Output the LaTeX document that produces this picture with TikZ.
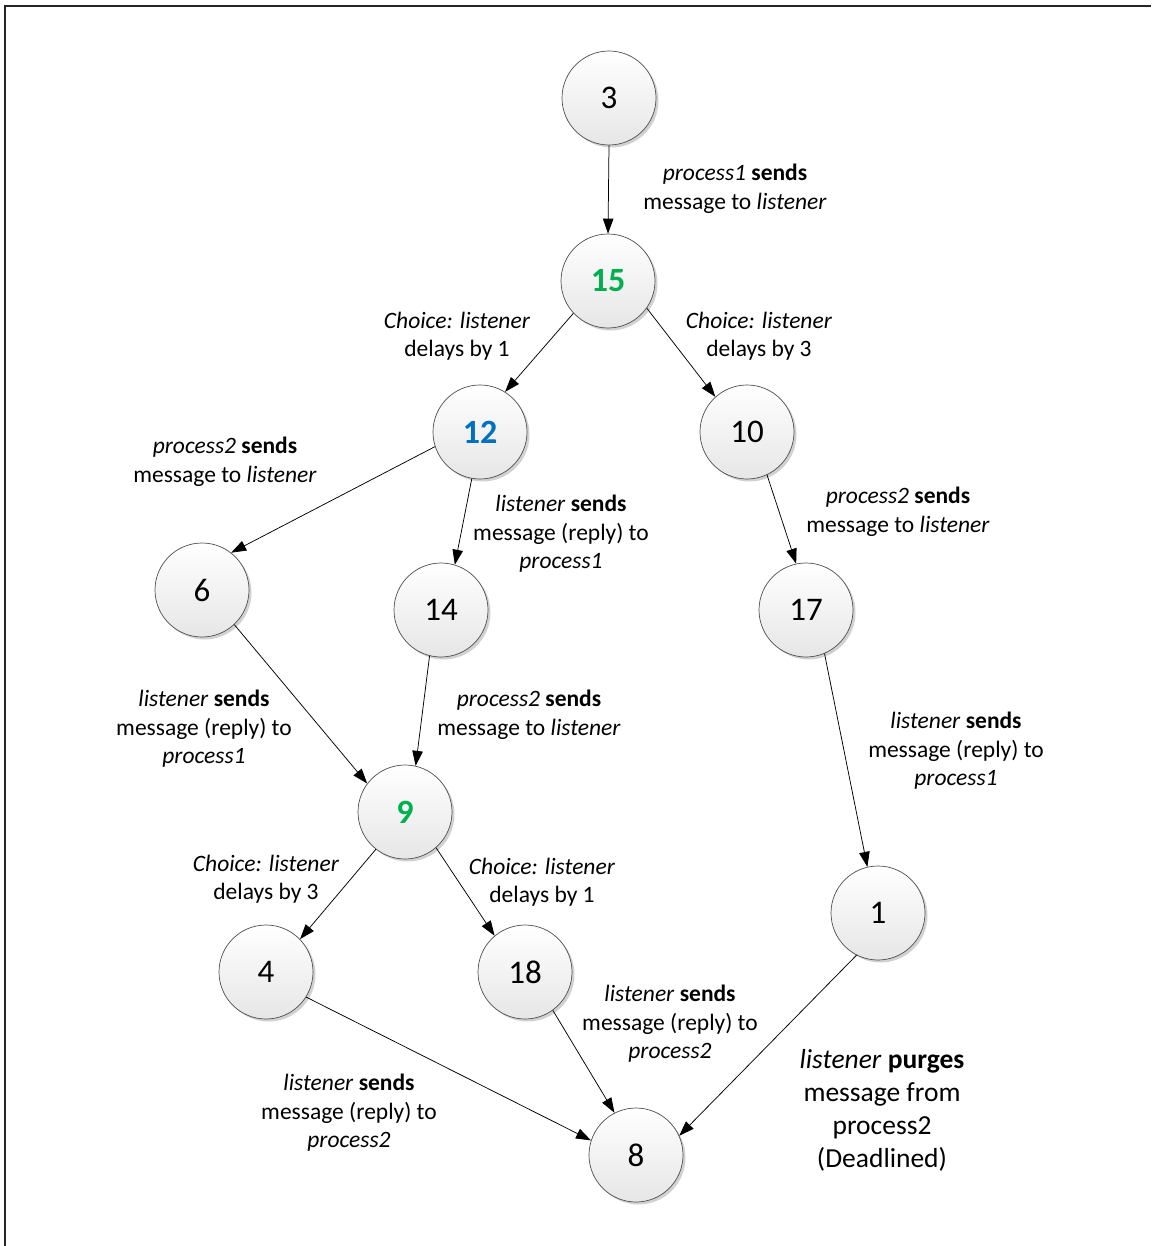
\documentclass[tikz,border=0pt]{standalone}
\usepackage{fontspec}
\setmainfont{Carlito}
\usetikzlibrary{arrows.meta,shadows}
\definecolor{stategreen}{RGB}{0,176,80}
\definecolor{stateblue}{RGB}{0,112,192}
\definecolor{ringgray}{RGB}{80,80,80}
\definecolor{fillgray}{RGB}{230,230,230}
\tikzset{
  state/.style={circle, minimum size=94pt, inner sep=0pt, draw=ringgray, line width=0.7pt,
    top color=white, bottom color=fillgray,
    drop shadow={shadow xshift=2.5pt, shadow yshift=-2.5pt, opacity=0.18, fill=black},
    font=\fontsize{33}{38}\selectfont},
  keystate/.style={state, font=\fontsize{34}{38}\selectfont\bfseries},
  lbl/.style={align=center, inner sep=0pt, font=\fontsize{23.5}{28.5}\selectfont},
  biglbl/.style={align=center, inner sep=0pt, font=\fontsize{27.5}{33}\selectfont},
  edge/.style={draw=black, line width=0.75pt, -{Triangle[length=15pt,width=10.5pt]}},
  frame/.style={draw=black!85, line width=1.3pt}
}
\begin{document}
\begin{tikzpicture}[x=1pt,y=-1pt]
\useasboundingbox (0,0) rectangle (1151,1246);
% page frame (top and left edges)
\coordinate (fb) at (5,1246);
\coordinate (fc) at (5,6);
\coordinate (fr) at (1151,6);
\draw[frame] (fb) -- (fc) -- (fr);

% states
\node[state] (n3) at (609,98) {3};
\node[keystate, text=stategreen] (n15) at (608,281) {15};
\node[keystate, text=stateblue] (n12) at (480,432) {12};
\node[state] (n10) at (747,432) {10};
\node[state] (n6) at (202,590) {6};
\node[state] (n14) at (441,610) {14};
\node[state] (n17) at (806,610) {17};
\node[keystate, text=stategreen] (n9) at (405,812) {9};
\node[state] (n4) at (266,972) {4};
\node[state] (n18) at (525,972) {18};
\node[state] (n1) at (878,913) {1};
\node[state] (n8) at (636,1155) {8};

% transitions
\draw[edge] (n3.south) -- (n15.north);
\draw[edge] (n15.223) -- (n12.58);
\draw[edge] (n15.325) -- (n10.132);
\draw[edge] (n12.198) -- (n6.52);
\draw[edge] (n12.260) -- (n14.73);
\draw[edge] (n10.295) -- (n17.102);
\draw[edge] (n6.313) -- (n9.143);
\draw[edge] (n14.256) -- (n9.77);
\draw[edge] (n17.293) -- (n1.103);
\draw[edge] (n9.232) -- (n4.44);
\draw[edge] (n9.311) -- (n18.130);
\draw[edge] (n4.328) -- (n8.162);
\draw[edge] (n18.306) -- (n8.117);
\draw[edge] (n1.243) -- (n8.24);

% transition labels
\node[lbl] (l1) at (735,189) {\textit{process1} \textbf{sends}\\message to \textit{listener}};
\node[lbl] (l2) at (457,336) {\textit{Choice: listener}\\delays by 1};
\node[lbl] (l3) at (759,336) {\textit{Choice: listener}\\delays by 3};
\node[lbl] (l4) at (225,462) {\textit{process2} \textbf{sends}\\message to \textit{listener}};
\node[lbl] (l5) at (561,534) {\textit{listener} \textbf{sends}\\message (reply) to\\\textit{process1}};
\node[lbl] (l6) at (898,512) {\textit{process2} \textbf{sends}\\message to \textit{listener}};
\node[lbl] (l7) at (204,729) {\textit{listener} \textbf{sends}\\message (reply) to\\\textit{process1}};
\node[lbl] (l8) at (529,715) {\textit{process2} \textbf{sends}\\message to \textit{listener}};
\node[lbl] (l9) at (956,751) {\textit{listener} \textbf{sends}\\message (reply) to\\\textit{process1}};
\node[lbl] (l10) at (266,879) {\textit{Choice: listener}\\delays by 3};
\node[lbl] (l11) at (542,882) {\textit{Choice: listener}\\delays by 1};
\node[lbl] (l12) at (670,1024) {\textit{listener} \textbf{sends}\\message (reply) to\\\textit{process2}};
\node[lbl] (l13) at (349,1113) {\textit{listener} \textbf{sends}\\message (reply) to\\\textit{process2}};
\node[biglbl] (l14) at (882,1110) {\textit{listener} \textbf{purges}\\message from\\process2\\(Deadlined)};
\end{tikzpicture}
\end{document}
